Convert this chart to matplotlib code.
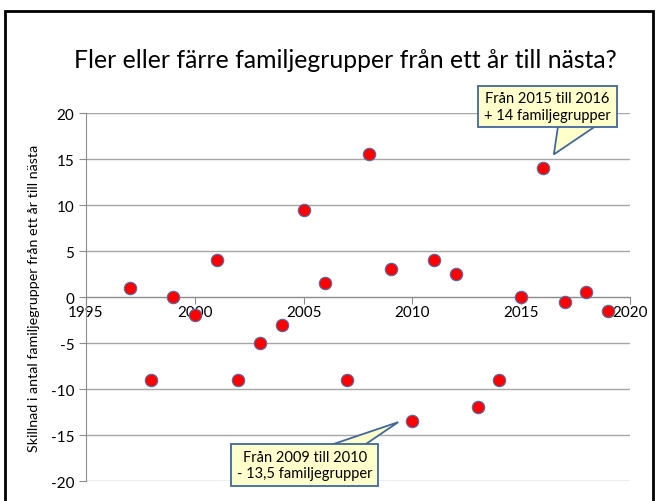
import matplotlib.pyplot as plt
from matplotlib.patches import Rectangle, Polygon

years = [1997, 1998, 1999, 2000, 2001, 2002, 2003, 2004, 2005, 2006, 2007, 2008,
         2009, 2010, 2011, 2012, 2013, 2014, 2015, 2016, 2017, 2018, 2019]
diff = [1, -9, 0, -2, 4, -9, -5, -3, 9.5, 1.5, -9, 15.5,
        3, -13.5, 4, 2.5, -12, -9, 0, 14, -0.5, 0.5, -1.5]

plt.rcParams['font.family'] = ['Lato', 'DejaVu Sans']
plt.rcParams['axes.unicode_minus'] = False

fig = plt.figure(figsize=(6.58, 5.02), dpi=100)
fig.patches.append(Rectangle((5/658, -0.05), 648/658, 1.05 - 12/502, transform=fig.transFigure,
                             fill=False, edgecolor='black', linewidth=2))
ax = fig.add_axes([86/658, 1 - 482/502, 544/658, 368/502])

ax.scatter(years, diff, s=80, color='#ff0000', edgecolors='#4f6fa8', linewidths=0.8, zorder=3)

ax.set_xlim(1995, 2020)
ax.set_ylim(-20, 20)
ax.set_xticks(range(1995, 2021, 5))
ax.set_yticks(range(-20, 21, 5))
ax.grid(axis='y', color='#a6a6a6', linewidth=1)
ax.set_axisbelow(True)
for s in ['top', 'right']:
    ax.spines[s].set_visible(False)
ax.spines['bottom'].set_position(('data', 0))
ax.spines['bottom'].set_color('#8c8c8c')
ax.spines['left'].set_color('#8c8c8c')
ax.tick_params(axis='both', colors='#8c8c8c', labelcolor='black', labelsize=11, length=5)
ax.tick_params(axis='x', direction='out', pad=1)

ax.set_ylabel('Skillnad i antal familjegrupper från ett år till nästa', fontsize=10.3, labelpad=8)
fig.text(345/658, 1 - 60/502, 'Fler eller färre familjegrupper från ett år till nästa?',
         ha='center', va='center', fontsize=17.8)

# callouts: pointer triangle first, then the box on top of its base
box = dict(boxstyle='square,pad=0.4', fc='#ffffcc', ec='#41689a', lw=1.3)
ax.add_patch(Polygon([(2016.7, 18.7), (2018.5, 18.7), (2016.5, 15.5)], closed=True,
                     fc='#ffffcc', ec='#41689a', lw=1.3, zorder=4))
ax.annotate('Från 2015 till 2016\n+ 14 familjegrupper', xy=(2016.2, 20.7),
            ha='center', va='center', multialignment='center', fontsize=10.5, bbox=box,
            annotation_clip=False, zorder=5)
ax.add_patch(Polygon([(2005.85, -16.4), (2007.6, -16.4), (2009.35, -13.6)], closed=True,
                     fc='#ffffcc', ec='#41689a', lw=1.3, zorder=4))
ax.annotate('Från 2009 till 2010\n- 13,5 familjegrupper', xy=(2005.05, -18.3),
            ha='center', va='center', multialignment='center', fontsize=10.5, bbox=box, zorder=5)

fig.savefig('out.png', dpi=100)
